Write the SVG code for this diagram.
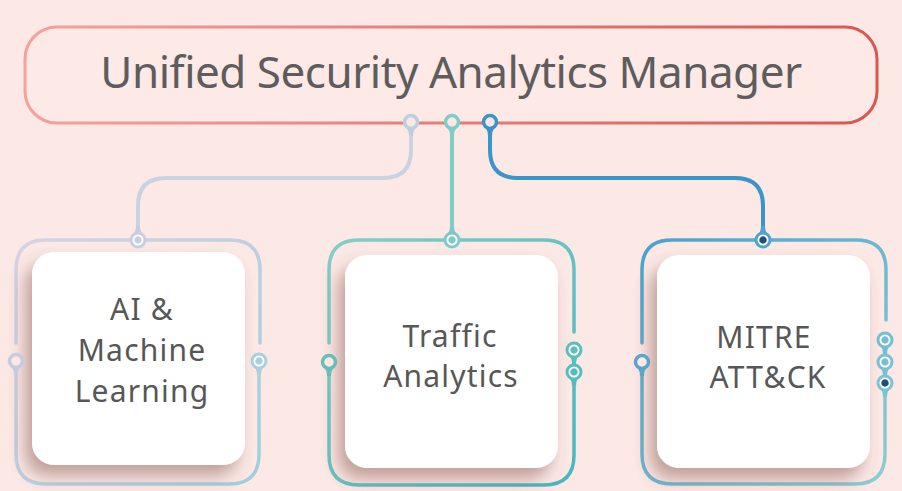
<svg xmlns="http://www.w3.org/2000/svg" xmlns:xlink="http://www.w3.org/1999/xlink" width="902" height="491" viewBox="0 0 902 491">
<defs>
<style>
.title{font-family:"Noto Sans","Open Sans","DejaVu Sans",sans-serif;font-size:44px;fill:#5d5d5d;text-anchor:middle;letter-spacing:-0.5px}
.lbl{font-family:"Noto Sans","Open Sans","DejaVu Sans",sans-serif;font-size:30px;fill:#575757;text-anchor:middle;letter-spacing:1.2px}
.frame{fill:none;stroke-width:3.5;stroke-linecap:round}
.conn{fill:none;stroke-width:4;stroke-linecap:round}
.card{fill:#ffffff;filter:url(#sh)}
</style>
<linearGradient id="gTop" x1="0" y1="0" x2="1" y2="0"><stop offset="0" stop-color="#f5a29c"/><stop offset="1" stop-color="#da5651"/></linearGradient>
<linearGradient id="gA" x1="0" y1="0" x2="1" y2="1"><stop offset="0" stop-color="#d8d2e4"/><stop offset="1" stop-color="#9fcfdf"/></linearGradient>
<linearGradient id="gB" x1="0" y1="0" x2="1" y2="1"><stop offset="0" stop-color="#84cec8"/><stop offset="1" stop-color="#48b7bf"/></linearGradient>
<linearGradient id="gC" x1="0" y1="0" x2="1" y2="1"><stop offset="0" stop-color="#4aa2cf"/><stop offset="1" stop-color="#90ccd2"/></linearGradient>
<filter id="sh" x="-30%" y="-30%" width="160%" height="170%"><feDropShadow dx="-7" dy="11" stdDeviation="8" flood-color="#7a4a40" flood-opacity="0.45"/></filter>
<path id="stem" d="M-6,4 Q-2,8 -2,14 L2,14 Q2,8 6,4 Z" fill="currentColor"/>
<g id="ring"><use xlink:href="#stem"/><circle r="6.5" fill="#fce8e5" stroke="currentColor" stroke-width="3.5"/></g>
<g id="disc"><use xlink:href="#stem"/><circle r="8.5" fill="currentColor"/><circle r="4.6" fill="none" stroke="#ffffff" stroke-width="1.8"/></g>
<g id="discN"><use xlink:href="#stem"/><circle r="8.5" fill="currentColor"/><circle r="4.6" fill="#1e4f7c" stroke="#ffffff" stroke-width="1.8"/></g>
</defs>
<rect width="902" height="491" fill="#fce8e5"/>

<g id="manager">
<rect x="25" y="27" width="852" height="96" rx="32" fill="#fde9e6" stroke="url(#gTop)" stroke-width="3"/>
<text class="title" x="451" y="88">Unified Security Analytics Manager</text>
</g>

<g id="connectors">
<path class="conn" stroke="#c8d2e3" d="M411,128 V150 Q411,178 383,178 H166 Q138,178 138,206 V232"/>
<path class="conn" stroke="#7ecdc6" d="M452,128 V232"/>
<path class="conn" stroke="#3b95c8" d="M490,128 V150 Q490,178 518,178 H735 Q763,178 763,206 V232"/>
<use xlink:href="#ring" x="411" y="122" color="#bccfe0"/>
<use xlink:href="#ring" x="452" y="122" color="#7ecdc6"/>
<use xlink:href="#ring" x="490" y="122" color="#3a94c9"/>
</g>

<g id="ai-ml">
<path class="frame" stroke="url(#gA)" d="M16,343 V270 Q16,240 46,240 H230 Q260,240 260,270 V343 M259,370 V454 Q259,484 229,484 H46 Q16,484 16,454 V370"/>
<rect class="card" x="32" y="252" width="213" height="213" rx="22"/>
<use xlink:href="#disc" transform="translate(138,240) rotate(180)" color="#c9cde0"/>
<use xlink:href="#ring" x="16" y="361" color="#c5cbe0"/>
<use xlink:href="#disc" x="259" y="361" color="#a8d0df"/>
<text class="lbl" x="142" y="320">AI &amp;</text>
<text class="lbl" x="142" y="361">Machine</text>
<text class="lbl" x="142" y="402">Learning</text>
</g>

<g id="traffic">
<path class="frame" stroke="url(#gB)" d="M329,343 V270 Q329,240 359,240 H544 Q574,240 574,270 V332 M574,380 V455 Q574,485 544,485 H359 Q329,485 329,455 V370"/>
<rect class="card" x="345" y="255" width="213" height="213" rx="22"/>
<use xlink:href="#disc" transform="translate(452,240) rotate(180)" color="#7ecbc6"/>
<use xlink:href="#ring" x="329" y="362" color="#66bdb9"/>
<use xlink:href="#disc" x="574" y="350" color="#5bbfc0"/>
<use xlink:href="#disc" x="574" y="372" color="#55bcc0"/>
<text class="lbl" x="450" y="347">Traffic</text>
<text class="lbl" x="451" y="387">Analytics</text>
</g>

<g id="mitre">
<path class="frame" stroke="url(#gC)" d="M642,343 V270 Q642,240 672,240 H856 Q886,240 886,270 V320 M885,391 V454 Q885,484 855,484 H672 Q642,484 642,454 V370"/>
<rect class="card" x="657" y="255" width="213" height="213" rx="22"/>
<use xlink:href="#discN" transform="translate(763,240) rotate(180)" color="#4fa3cf"/>
<use xlink:href="#ring" x="642" y="362" color="#5aa6c8"/>
<use xlink:href="#disc" x="885" y="340" color="#74bed2"/>
<use xlink:href="#disc" x="885" y="362" color="#78c0d2"/>
<use xlink:href="#discN" x="885" y="383" color="#7cc3d3"/>
<text class="lbl" x="764" y="348">MITRE</text>
<text class="lbl" x="768" y="388">ATT&amp;CK</text>
</g>
</svg>
